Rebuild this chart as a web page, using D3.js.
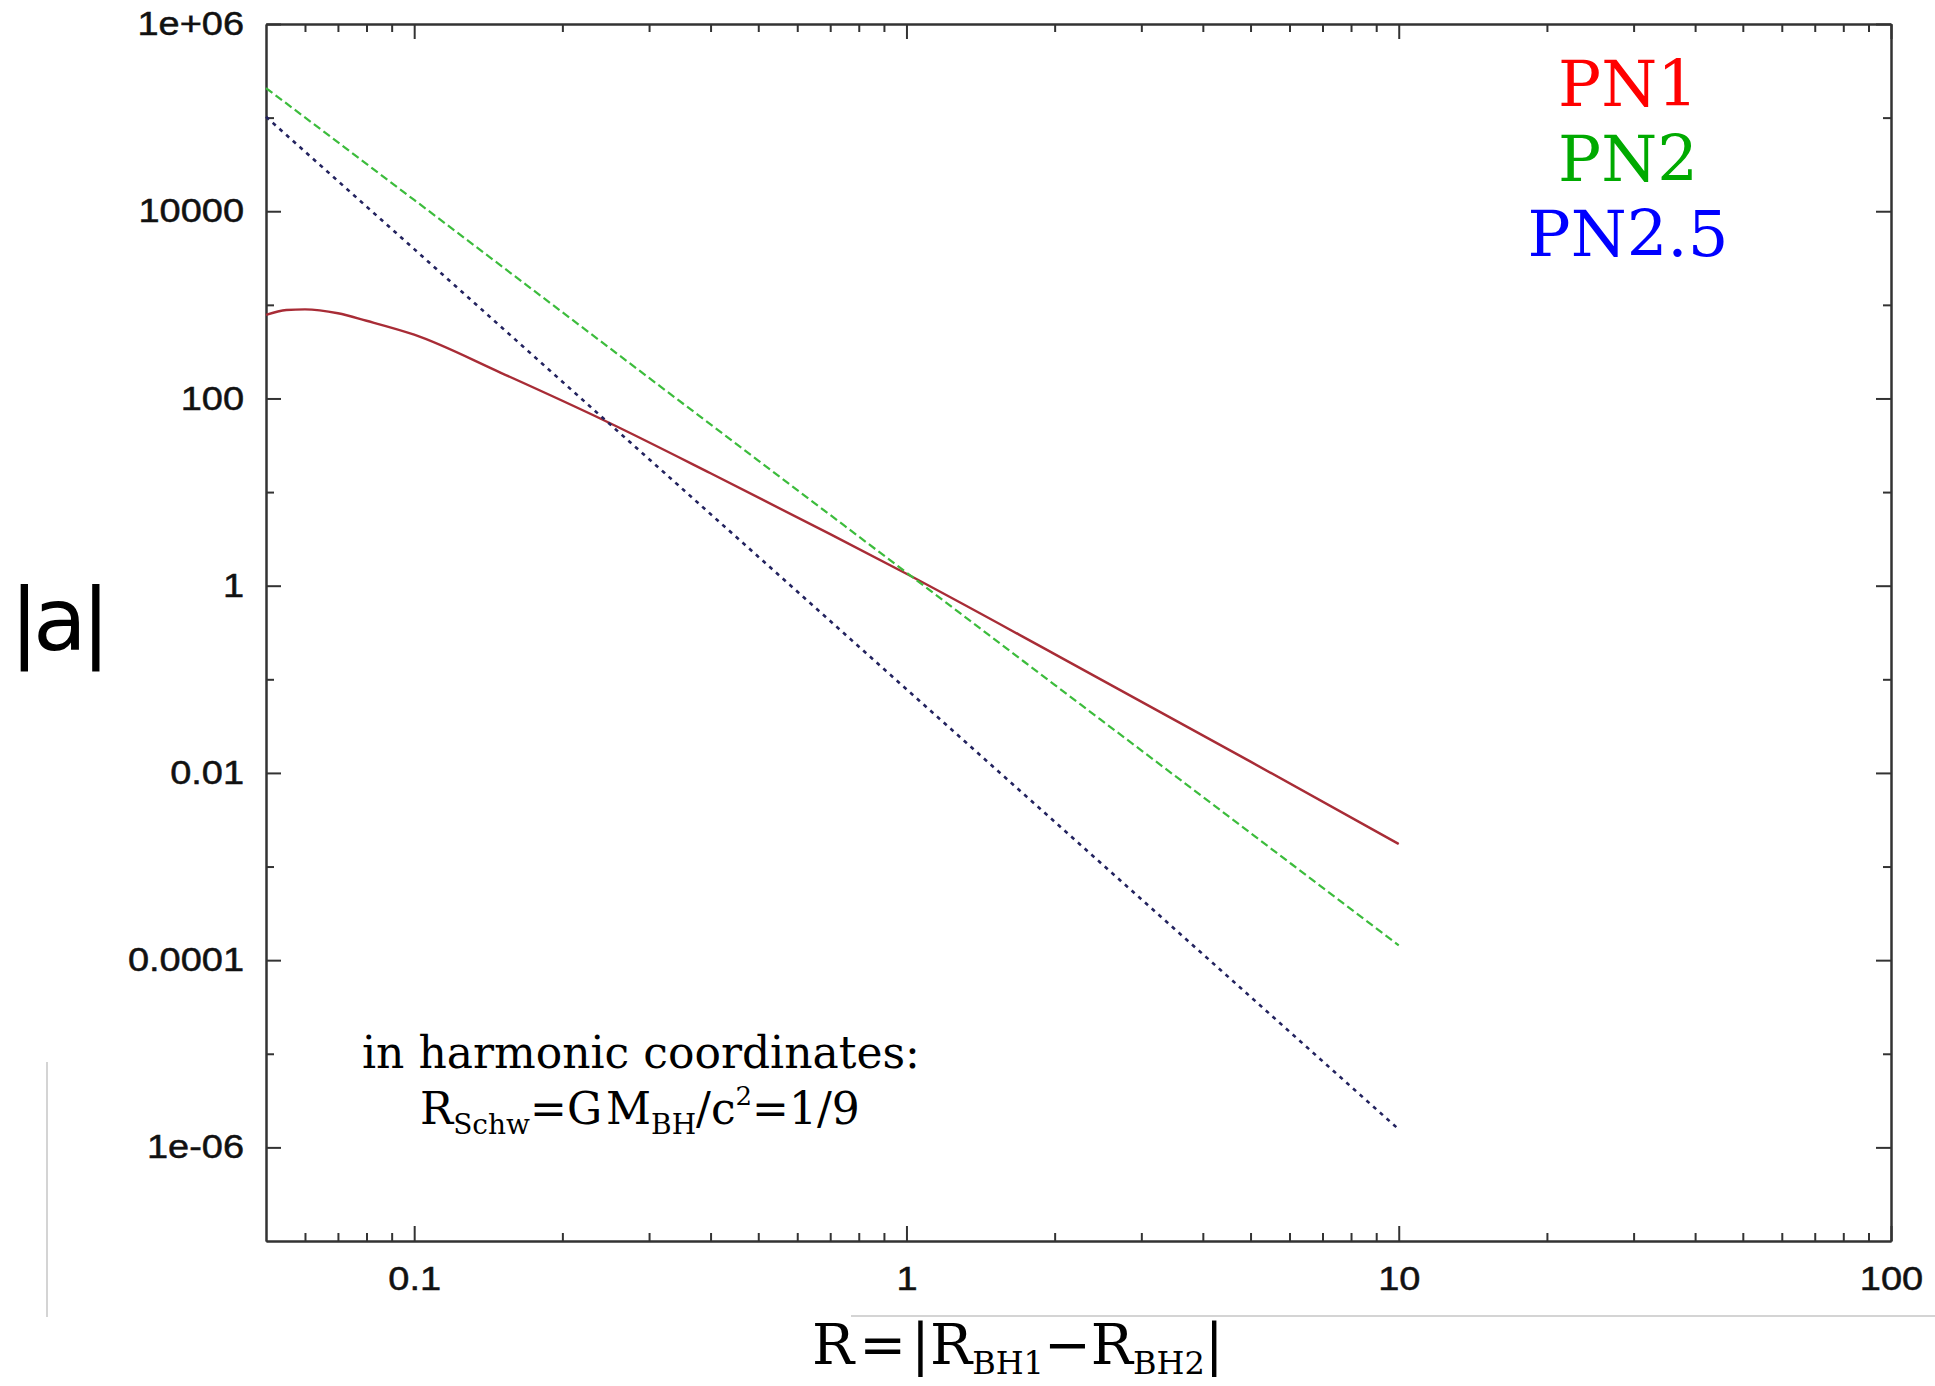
<!DOCTYPE html>
<html>
<head>
<meta charset="utf-8">
<script src="https://cdn.jsdelivr.net/npm/d3@7"></script>
<style>
    body { margin: 0; background: #fff; }
    .tick text { font-family: "Liberation Sans", Arial, sans-serif; fill: #111; stroke: #111; stroke-width: 0.5; }
    .axis path, .axis line { stroke: #333; stroke-width: 2; }
</style>
</head>
<body>
<div id="chart"></div>
<script>
// values
const radiusPn1 = [0.05, 0.055, 0.06, 0.07, 0.08, 0.1, 0.15, 0.25, 0.4, 0.7, 1, 2, 5, 10];
const accelPn1 = [780, 880, 895, 813, 676, 480, 188, 54.4, 15.9, 3.55, 1.34, 0.186, 0.0132, 0.00174];

const radiusPn2 = [0.05, 0.1, 0.2, 0.5, 1, 2, 5, 10];
const accelPn2 = [2.07e5, 1.32e4, 834, 21.7, 1.38, 0.0873, 0.00228, 0.000144];

const radiusPn25 = [0.05, 0.1, 0.2, 0.5, 1, 2, 5, 10];
const accelPn25 = [1.02e5, 3940, 151, 2.04, 0.0783, 0.00301, 4.06e-5, 1.56e-6];

const seriesNames = ['PN1', 'PN2', 'PN2.5'];

const xMajorTicks = [0.1, 1, 10, 100];
const xMinorTicks = [0.06, 0.07, 0.08, 0.09, 0.2, 0.3, 0.4, 0.5, 0.6, 0.7, 0.8, 0.9,
    2, 3, 4, 5, 6, 7, 8, 9, 20, 30, 40, 50, 60, 70, 80, 90];
const xTickLabels = ['0.1', '1', '10', '100'];

const yMajorTicks = [1e6, 1e4, 1e2, 1, 1e-2, 1e-4, 1e-6];
const yMinorTicks = [1e5, 1e3, 1e1, 1e-1, 1e-3, 1e-5];
const yTickLabels = ['1e+06', '10000', '100', '1', '0.01', '0.0001', '1e-06'];

class LogPlot {
    constructor(_config) {
        this.config = {
            parentElement: _config.parentElement,
            containerWidth: 1935,
            containerHeight: 1386,
            margin: {top: 24, right: 44, bottom: 145, left: 266}
        }
        this.initVis();
    }

    initVis() {
        let vis = this;

        vis.width = vis.config.containerWidth - vis.config.margin.left - vis.config.margin.right;
        vis.height = vis.config.containerHeight - vis.config.margin.top - vis.config.margin.bottom;

        vis.xScale = d3.scaleLog().domain([0.05, 100]).range([0, vis.width]);
        vis.yScale = d3.scaleLog().domain([1e-7, 1e6]).range([vis.height, 0]);

        vis.svg = d3.select(vis.config.parentElement).append('svg')
            .attr('width', vis.config.containerWidth)
            .attr('height', vis.config.containerHeight);

        // faint frame lines left over in the original picture
        vis.svg.append('line').attr('x1', 47).attr('x2', 47).attr('y1', 1062).attr('y2', 1317)
            .attr('stroke', '#d4d4d4').attr('stroke-width', 2);
        vis.svg.append('line').attr('x1', 851).attr('x2', 1935).attr('y1', 1316).attr('y2', 1316)
            .attr('stroke', '#d4d4d4').attr('stroke-width', 2);

        vis.g = vis.svg.append('g')
            .attr('transform', `translate(${vis.config.margin.left},${vis.config.margin.top})`);
    }

    renderVis() {
        let vis = this;
        const labelFor = (ticks, labels) => d => labels[ticks.indexOf(d)];
        const stretch = 1.15;

        // bottom axis, ticks pointing into the plot
        vis.g.append('g').attr('class', 'axis')
            .attr('transform', `translate(0,${vis.height})`)
            .call(d3.axisBottom(vis.xScale).tickValues(xMinorTicks).tickSize(-8).tickSizeOuter(0).tickFormat(''));
        vis.g.append('g').attr('class', 'axis')
            .attr('transform', `translate(0,${vis.height})`)
            .call(d3.axisBottom(vis.xScale).tickValues(xMajorTicks).tickSize(-15).tickSizeOuter(0)
                .tickPadding(26).tickFormat(labelFor(xMajorTicks, xTickLabels)))
            .selectAll('text').attr('font-size', 33)
            .attr('transform', `scale(${stretch},1)`);

        // top axis
        vis.g.append('g').attr('class', 'axis')
            .call(d3.axisTop(vis.xScale).tickValues(xMinorTicks).tickSize(-8).tickSizeOuter(0).tickFormat(''));
        vis.g.append('g').attr('class', 'axis')
            .call(d3.axisTop(vis.xScale).tickValues(xMajorTicks).tickSize(-15).tickSizeOuter(0).tickFormat(''));

        // left axis
        vis.g.append('g').attr('class', 'axis')
            .call(d3.axisLeft(vis.yScale).tickValues(yMinorTicks).tickSize(-8).tickSizeOuter(0).tickFormat(''));
        vis.g.append('g').attr('class', 'axis')
            .call(d3.axisLeft(vis.yScale).tickValues(yMajorTicks).tickSize(-15).tickSizeOuter(0)
                .tickPadding(22 / stretch).tickFormat(labelFor(yMajorTicks, yTickLabels)))
            .selectAll('text').attr('font-size', 33)
            .attr('transform', `scale(${stretch},1)`);

        // right axis
        vis.g.append('g').attr('class', 'axis')
            .attr('transform', `translate(${vis.width},0)`)
            .call(d3.axisRight(vis.yScale).tickValues(yMinorTicks).tickSize(-8).tickSizeOuter(0).tickFormat(''));
        vis.g.append('g').attr('class', 'axis')
            .attr('transform', `translate(${vis.width},0)`)
            .call(d3.axisRight(vis.yScale).tickValues(yMajorTicks).tickSize(-15).tickSizeOuter(0).tickFormat(''));

        // curves
        const line = d3.line()
            .x(d => vis.xScale(d[0]))
            .y(d => vis.yScale(d[1]))
            .curve(d3.curveMonotoneX);

        const series = [
            {name: seriesNames[0], points: d3.zip(radiusPn1, accelPn1), color: '#a82c36', dash: null, width: 2.4},
            {name: seriesNames[1], points: d3.zip(radiusPn2, accelPn2), color: '#3cbc3c', dash: '8,4', width: 2.2},
            {name: seriesNames[2], points: d3.zip(radiusPn25, accelPn25), color: '#23235f', dash: '4,5', width: 2.6}
        ];

        vis.g.selectAll('.curve').data(series).join('path')
            .attr('class', 'curve')
            .attr('fill', 'none')
            .attr('stroke', d => d.color)
            .attr('stroke-width', d => d.width)
            .attr('stroke-dasharray', d => d.dash)
            .attr('d', d => line(d.points));

        // legend
        const legendColors = ['#ff0000', '#00aa00', '#0000ff'];
        vis.svg.selectAll('.legend').data(seriesNames).join('text')
            .attr('class', 'legend')
            .attr('x', 1628)
            .attr('y', (d, i) => 106 + i * 75)
            .attr('text-anchor', 'middle')
            .attr('font-family', '"DejaVu Serif", serif')
            .attr('font-size', 64)
            .attr('fill', (d, i) => legendColors[i])
            .text(d => d);

        // note inside the plot
        const serif = '"DejaVu Serif", serif';
        vis.svg.append('text')
            .attr('x', 362).attr('y', 1068)
            .attr('font-family', serif).attr('font-size', 44)
            .text('in harmonic coordinates:');

        const note = vis.svg.append('text')
            .attr('x', 420).attr('y', 1124)
            .attr('font-family', serif).attr('font-size', 44);
        note.append('tspan').text('R');
        note.append('tspan').attr('font-size', 28).attr('dy', 10).text('Schw');
        note.append('tspan').attr('dy', -10).text('=G');
        note.append('tspan').attr('dx', 4).text('M');
        note.append('tspan').attr('font-size', 28).attr('dy', 10).text('BH');
        note.append('tspan').attr('dy', -10).text('/c');
        note.append('tspan').attr('font-size', 26).attr('dy', -19).text('2');
        note.append('tspan').attr('dy', 19).text('=1/9');

        // axis titles
        vis.svg.append('text')
            .attr('x', 57).attr('y', 650)
            .attr('text-anchor', 'middle')
            .attr('font-family', '"DejaVu Sans", sans-serif')
            .attr('font-size', 88)
            .attr('letter-spacing', -6)
            .text('|a|');

        const xTitle = vis.svg.append('text')
            .attr('x', 812).attr('y', 1364)
            .attr('font-family', serif).attr('font-size', 56);
        xTitle.append('tspan').text('R');
        xTitle.append('tspan').attr('dx', 5).text('=');
        xTitle.append('tspan').attr('dx', 5).text('|R');
        xTitle.append('tspan').attr('font-size', 32).attr('dy', 10).text('BH1');
        xTitle.append('tspan').attr('dy', -10).text('\u2212R');
        xTitle.append('tspan').attr('font-size', 32).attr('dy', 10).text('BH2');
        xTitle.append('tspan').attr('dy', -10).text('|');
    }
}

const plot = new LogPlot({parentElement: '#chart'});
plot.renderVis();
</script>
</body>
</html>
